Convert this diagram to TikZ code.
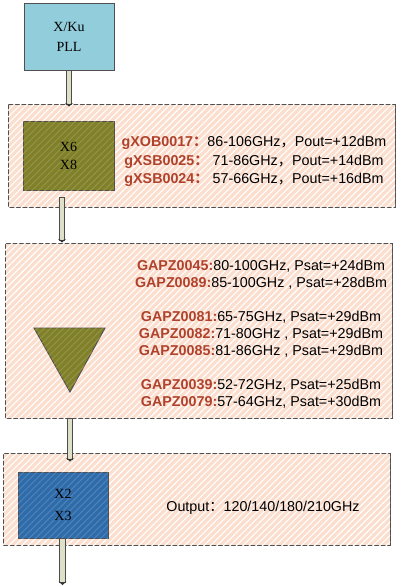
\documentclass[tikz,border=0pt]{standalone}
\usepackage{fontspec}
\setmainfont{Liberation Serif}
\setsansfont{Liberation Sans}
\newfontfamily\cjkfont{Noto Sans CJK SC}
\newcommand{\cjkp}[1]{{\cjkfont #1}}
\usetikzlibrary{patterns.meta,decorations.markings,calc}
\definecolor{pllblue}{RGB}{146,205,220}
\definecolor{peach}{RGB}{252,222,206}
\definecolor{olivebox}{RGB}{128,128,40}
\definecolor{olivestripe}{RGB}{146,146,74}
\definecolor{bluebox}{RGB}{46,107,168}
\definecolor{bluestripe}{RGB}{76,130,186}
\definecolor{edge}{RGB}{80,80,80}
\definecolor{labred}{RGB}{176,66,44}
\definecolor{pipefill}{RGB}{222,224,200}
\tikzset{
  hatched/.style={postaction={pattern={Lines[angle=45,distance=4.6pt,line width=1.1pt]},pattern color=#1}},
  panel/.style={rectangle, draw=edge, line width=0.9pt, fill=peach, hatched=white, inner sep=0pt},
  pllbox/.style={rectangle, draw=edge, line width=0.9pt, fill=pllblue, inner sep=0pt,
     minimum width=90pt, minimum height=67pt, align=center, font=\fontsize{14}{20}\selectfont},
  olivebx/.style={rectangle, draw=edge, line width=0.9pt, fill=olivebox, hatched=olivestripe, inner sep=0pt,
     minimum width=91pt, minimum height=69pt, align=center, font=\fontsize{14}{18}\selectfont},
  bluebx/.style={rectangle, draw=edge, line width=0.9pt, fill=bluebox, hatched=bluestripe, inner sep=0pt,
     minimum width=90pt, minimum height=66pt, align=center, font=\fontsize{14}{22}\selectfont},
  lbltext/.style={font=\sffamily\fontsize{14.3}{#1}\selectfont, align=center, inner sep=0pt},
  pipe/.style={draw=black!70, line width=6.2pt, shorten >=2pt,
     postaction={draw=pipefill, line width=4.2pt, shorten <=0.9pt, shorten >=2.9pt},
     postaction={decorate, decoration={markings, mark=at position 1 with {
        \fill[black!80] (-3.5pt,4pt) -- (0,0) -- (-3.5pt,-4pt) -- (-2.2pt,0) -- cycle;}}}},
}
\newcommand{\lab}[1]{{\bfseries\color{labred}#1}}
\begin{document}
\begin{tikzpicture}[x=1pt,y=-1pt]
\useasboundingbox (0,0) rectangle (400,587);
\fill[white] (0,0) rectangle (400,587);

% PLL
\node[pllbox] (pll) at (69,36.5) {X/Ku\\PLL};

% panel 1
\node[panel, minimum width=387pt, minimum height=103pt] (p1) at (201.5,155.5) {};
\node[olivebx] (g) at (68.5,155.5) {X6\\X8};
\node[lbltext=18.5] (t1) at (254,161.5) {%
\lab{gXOB0017\cjkp{：}}86-106GHz\cjkp{，}Pout=+12dBm\\
\lab{gXSB0025\cjkp{：}} 71-86GHz\cjkp{，}Pout=+14dBm\\
\lab{gXSB0024\cjkp{：}} 57-66GHz\cjkp{，}Pout=+16dBm};

% panel 2
\node[panel, minimum width=387pt, minimum height=175pt] (p2) at (198.5,330.5) {};
\draw[draw=edge, line width=0.9pt, fill=olivebox, hatched=olivestripe] (34,328) -- (105,328) -- (70,392) -- cycle;
\node[lbltext=17] (t2) at (261,334) {%
\lab{GAPZ0045:}80-100GHz, Psat=+24dBm\\
\lab{GAPZ0089:}85-100GHz , Psat=+28dBm\\[17pt]
\lab{GAPZ0081:}65-75GHz, Psat=+29dBm\\
\lab{GAPZ0082:}71-80GHz , Psat=+29dBm\\
\lab{GAPZ0085:}81-86GHz , Psat=+29dBm\\[17pt]
\lab{GAPZ0039:}52-72GHz, Psat=+25dBm\\
\lab{GAPZ0079:}57-64GHz, Psat=+30dBm};

% panel 3
\node[panel, minimum width=387pt, minimum height=92pt] (p3) at (196.5,499) {};
\node[bluebx] (b) at (63,505) {X2\\X3};
\node[lbltext=17] (t3) at (263,508) {Output\cjkp{：}120/140/180/210GHz};

% connectors
\coordinate (c3) at (70,0);
\coordinate (out) at (62.5,585);
\draw[pipe] (pll.south) -- ([yshift=-3pt]pll.south |- p1.north);
\draw[pipe] ([xshift=-6.5pt,yshift=-7pt]g.south) -- ([xshift=-6.5pt]g.south |- p2.north);
\draw[pipe] (c3 |- p2.south) -- ([yshift=-9pt]c3 |- p3.north);
\draw[pipe] (out |- b.south) -- (out);
\end{tikzpicture}
\end{document}
